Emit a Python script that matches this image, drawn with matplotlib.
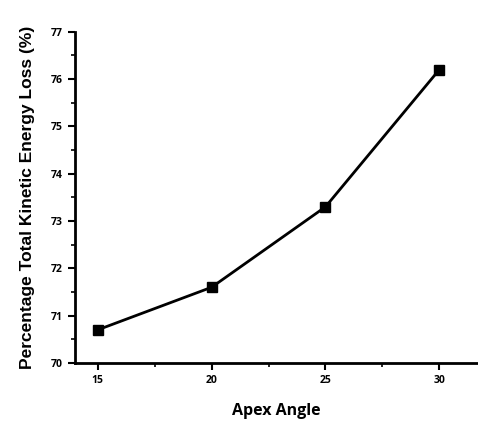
import matplotlib
matplotlib.use("Agg")
import matplotlib.pyplot as plt
from matplotlib.ticker import MultipleLocator

# data
apex_angle = [15, 20, 25, 30]
ke_loss = [70.7, 71.6, 73.3, 76.2]

fig = plt.figure(figsize=(4.78, 4.24), dpi=100)
ax = fig.add_axes([0.157, 0.144, 0.843, 0.781])

ax.plot(apex_angle, ke_loss, color='black', lw=2, marker='s', ms=7.5,
        mec='black', mfc='black', clip_on=False)

ax.set_xlim(14, 31.7)
ax.set_ylim(70, 77)
ax.xaxis.set_major_locator(MultipleLocator(5))
ax.xaxis.set_minor_locator(MultipleLocator(2.5))
ax.yaxis.set_major_locator(MultipleLocator(1))
ax.yaxis.set_minor_locator(MultipleLocator(0.5))

for s in ['top', 'right']:
    ax.spines[s].set_visible(False)
for s in ['left', 'bottom']:
    ax.spines[s].set_linewidth(2)

ax.tick_params(which='major', direction='out', length=5, width=1.5, labelsize=7.5, pad=4)
ax.tick_params(which='minor', direction='out', length=3, width=1.2)
for lab in ax.get_xticklabels() + ax.get_yticklabels():
    lab.set_fontweight('bold')
    lab.set_family('Open Sans')

ax.set_xlabel('Apex Angle', fontsize=11.5, fontweight='bold', family='Open Sans', labelpad=12)
ax.set_ylabel('Percentage Total Kinetic Energy Loss (%)', fontsize=12.5,
              fontweight='bold', family='Liberation Sans', labelpad=11)

fig.savefig('out.png', dpi=100, facecolor='white')
